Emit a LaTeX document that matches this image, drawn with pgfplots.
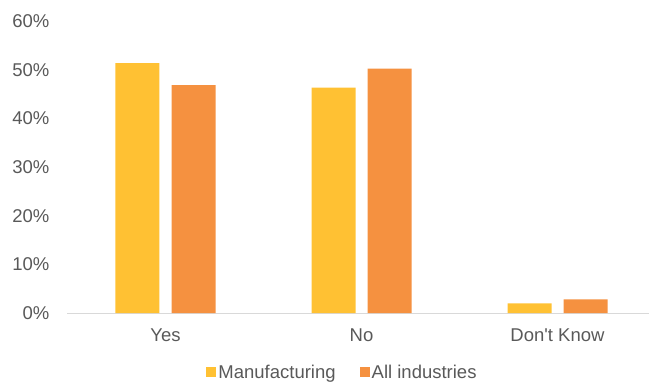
\documentclass[border=0pt]{standalone}
\usepackage{pgfplots}
\pgfplotsset{compat=1.18}
\usepackage{fontspec}
\setmainfont{Liberation Sans}
\definecolor{manuf}{HTML}{FFC133}
\definecolor{allind}{HTML}{F59140}
\definecolor{txt}{HTML}{595959}
\definecolor{axisgray}{HTML}{D9D9D9}
\begin{document}
\fontsize{18.5bp}{22bp}\selectfont
\begin{tikzpicture}
\path[use as bounding box] (-67.5bp,-70bp) rectangle (581.5bp,313bp);
\begin{axis}[
  at={(0,0)}, anchor=south west,
  scale only axis,
  width=588bp, height=291.6bp,
  xmin=-0.5, xmax=2.5,
  ymin=0, ymax=60,
  ytick={0,10,20,30,40,50,60},
  yticklabels={0\%,10\%,20\%,30\%,40\%,50\%,60\%},
  xtick={0,1,2},
  xticklabels={Yes,No,Don\textquotesingle t Know},
  major tick length=0pt,
  axis x line*=bottom,
  axis y line*=left,
  y axis line style={draw=none},
  x axis line style={draw=axisgray, line width=1bp, -},
  ticklabel style={font=\fontsize{18.5bp}{22bp}\selectfont, text=txt},
  yticklabel style={anchor=east, inner sep=0pt, xshift=-18bp},
  xticklabel style={anchor=north, inner sep=0pt, yshift=-16bp},
  ybar,
  bar width=44bp,
  clip=false,
  legend columns=2,
  legend style={at={(0.4677,-0.2067)}, anchor=center, draw=none, fill=none,
    font=\fontsize{18.5bp}{22bp}\selectfont, text=txt,
    /tikz/every even column/.append style={column sep=22bp},
    nodes={inner sep=2bp}},
  legend image code/.code={\fill[#1] (0bp,-4bp) rectangle (10bp,6bp);},
]
\addplot[fill=manuf, draw=none, bar shift=-28bp] coordinates {(0,51.4) (1,46.4) (2,2.0)};
\addplot[fill=allind, draw=none, bar shift=28bp] coordinates {(0,46.9) (1,50.3) (2,2.8)};
\legend{Manufacturing, All industries}
\end{axis}
\end{tikzpicture}
\end{document}
